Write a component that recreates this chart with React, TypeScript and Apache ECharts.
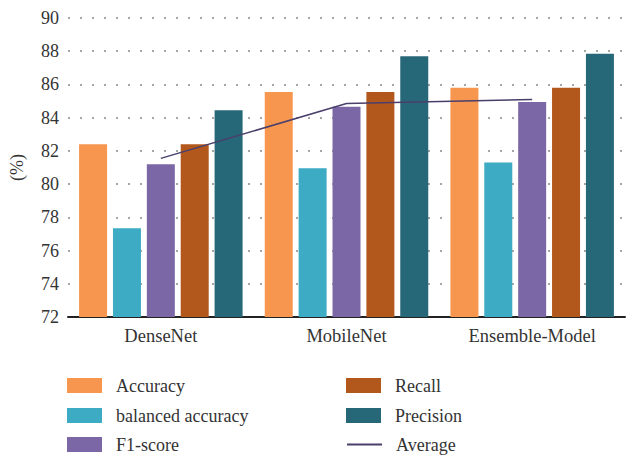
import React, { useEffect, useRef } from "react";
import * as echarts from "echarts";

const categories = ["DenseNet", "MobileNet", "Ensemble-Model"];
const accuracy = [82.4, 85.55, 85.8];
const balancedAccuracy = [77.35, 80.95, 81.3];
const f1Score = [81.2, 84.65, 84.95];
const recall = [82.4, 85.55, 85.8];
const precision = [84.45, 87.7, 87.85];
const average = [81.55, 84.85, 85.1];
const yTicks = { min: 72, max: 90, interval: 2 };
const legendLeft = ["Accuracy", "balanced accuracy", "F1-score"];
const legendRight = ["Recall", "Precision", "Average"];

const FONT = "Liberation Serif";

export default function App() {
  const ref = useRef<HTMLDivElement>(null);
  useEffect(() => {
    if (!ref.current) return;
    const chart = echarts.init(ref.current, null, { renderer: "svg" });
    const bar = (name: string, data: number[], color: string) => ({
      name,
      type: "bar",
      data,
      barWidth: 28,
      barGap: "21%",
      itemStyle: { color },
    });
    const legendText = {
      fontFamily: FONT,
      fontSize: 18,
      color: "#333",
      rich: {
        t: {
          fontFamily: FONT,
          fontSize: 18,
          color: "#333",
          lineHeight: 15,
          padding: [0, 0, 0, 9],
        },
      },
    };
    const rowTops = [376.5, 406.5, 435.5];
    const makeLegend = (name: string, idx: number, left: number) => ({
      orient: "horizontal",
      left,
      top: rowTops[idx],
      padding: 0,
      itemWidth: 35,
      itemHeight: 15,
      textStyle: legendText,
      formatter: "{t|{name}}",
      data: [
        name === "Average"
          ? { name, itemStyle: { opacity: 0 } }
          : { name, icon: "rect" },
      ],
    });
    chart.setOption({
      animation: false,
      textStyle: { fontFamily: FONT },
      grid: { left: 67, right: 8, top: 18, bottom: 139, containLabel: false },
      legend: [
        ...legendLeft.map((n, i) => makeLegend(n, i, 67)),
        ...legendRight.map((n, i) => makeLegend(n, i, 346)),
      ],
      xAxis: {
        type: "category",
        data: categories,
        axisTick: { show: false },
        axisLine: { lineStyle: { color: "#222", width: 2 } },
        axisLabel: { fontFamily: FONT, fontSize: 18.5, color: "#333", margin: 9 },
      },
      yAxis: {
        type: "value",
        min: yTicks.min,
        max: yTicks.max,
        interval: yTicks.interval,
        name: "(%)",
        nameLocation: "middle",
        nameGap: 42,
        nameTextStyle: { fontFamily: FONT, fontSize: 18, color: "#333" },
        axisLine: { show: false },
        axisTick: { show: false },
        axisLabel: { fontFamily: FONT, fontSize: 18, color: "#333", margin: 9 },
        splitLine: { lineStyle: { type: [2, 10], color: "#888", width: 1.5 } },
      },
      series: [
        bar("Accuracy", accuracy, "#F7964F"),
        bar("balanced accuracy", balancedAccuracy, "#3DABC4"),
        bar("F1-score", f1Score, "#7B67A6"),
        bar("Recall", recall, "#B3581D"),
        bar("Precision", precision, "#276878"),
        {
          name: "Average",
          type: "line",
          data: average,
          symbol: "none",
          lineStyle: { color: "#4A3F6B", width: 1.5 },
          itemStyle: { color: "#4A3F6B" },
          z: 5,
        },
      ],
    });
    return () => chart.dispose();
  }, []);
  return <div ref={ref} style={{ width: 633, height: 456, position: "absolute", left: 0, top: 0 }} />;
}
